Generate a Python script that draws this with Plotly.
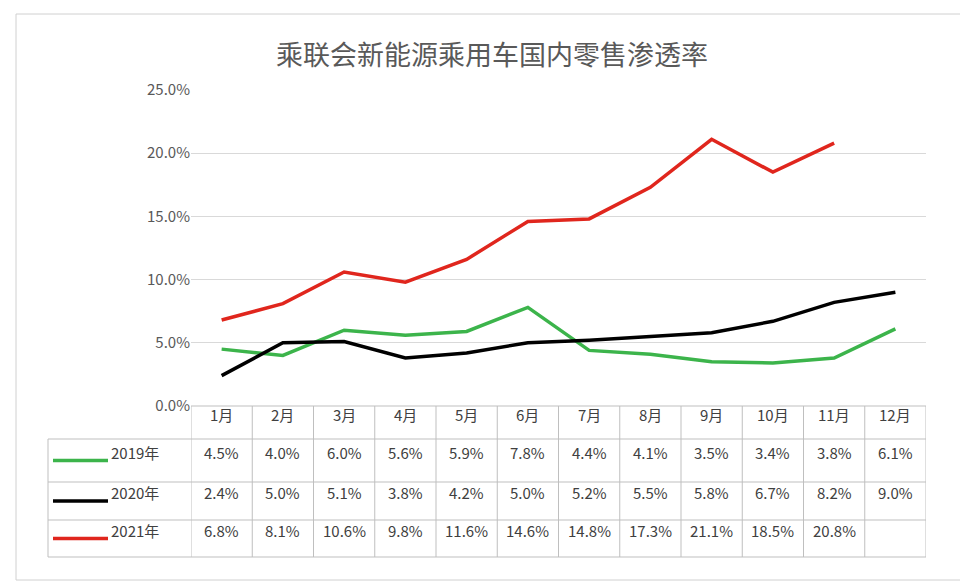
import plotly.graph_objects as go

months = ["1月", "2月", "3月", "4月", "5月", "6月", "7月", "8月", "9月", "10月", "11月", "12月"]
s2019 = [4.5, 4.0, 6.0, 5.6, 5.9, 7.8, 4.4, 4.1, 3.5, 3.4, 3.8, 6.1]
s2020 = [2.4, 5.0, 5.1, 3.8, 4.2, 5.0, 5.2, 5.5, 5.8, 6.7, 8.2, 9.0]
s2021 = [6.8, 8.1, 10.6, 9.8, 11.6, 14.6, 14.8, 17.3, 21.1, 18.5, 20.8, None]
names = ["2019年", "2020年", "2021年"]
colors = ["#3cb44b", "#000000", "#e0261d"]
series = [s2019, s2020, s2021]

W, H = 968, 586
L, R, T, B = 183, 50, 82, 188
pw, ph = W - L - R, H - T - B
def py(p):  # pixel y -> paper y
    return (H - B - p) / ph
def px(p):
    return (p - L) / pw

fig = go.Figure()
for n, s, c in zip(names, series, colors):
    fig.add_trace(go.Scatter(x=list(range(12)), y=s, mode="lines", name=n,
                             line=dict(color=c, width=3.5), showlegend=False))

shapes, ann = [], []
grey = "#bfbfbf"
font = dict(family="Noto Sans CJK SC", size=15, color="#404040")
rows = [398, 431, 474, 512, 549]
for i, r in enumerate(rows):
    x0 = 0 if i == 0 else px(40)
    shapes.append(dict(type="line", xref="paper", yref="paper", x0=x0, x1=1,
                       y0=py(r), y1=py(r), line=dict(color=grey, width=1)))
shapes.append(dict(type="line", xref="paper", yref="paper", x0=px(40), x1=px(40),
                   y0=py(rows[1]), y1=py(rows[-1]), line=dict(color=grey, width=1)))
for k in range(13):
    shapes.append(dict(type="line", xref="x", yref="paper", x0=k - 0.5, x1=k - 0.5,
                       y0=py(rows[0]), y1=py(rows[-1]), line=dict(color=grey, width=1)))
for k, m in enumerate(months):
    ann.append(dict(x=k, y=py((rows[0] + rows[1]) / 2), xref="x", yref="paper",
                    text=m, showarrow=False, font=font, yshift=-4))
for j, (n, s, c) in enumerate(zip(names, series, colors)):
    yc = py((rows[j + 1] + rows[j + 2]) / 2)
    shapes.append(dict(type="line", xref="paper", yref="paper", x0=px(45), x1=px(100),
                       y0=yc, y1=yc, line=dict(color=c, width=3.5)))
    ann.append(dict(x=px(101), y=yc, xref="paper", yref="paper", text=n, xanchor="left",
                    showarrow=False, font=font, yshift=-4))
    for k, v in enumerate(s):
        if v is not None:
            ann.append(dict(x=k, y=yc, xref="x", yref="paper", text=f"{v:.1f}%",
                            showarrow=False, font=font, yshift=-4))
shapes.append(dict(type="rect", xref="paper", yref="paper", x0=px(8), x1=px(958),
                   y0=py(572), y1=py(6), line=dict(color="#d0d0d0", width=1)))

fig.update_layout(
    width=W, height=H, margin=dict(l=L, r=R, t=T, b=B),
    plot_bgcolor="white", paper_bgcolor="white",
    title=dict(text="乘联会新能源乘用车国内零售渗透率", x=0.5, xanchor="center", y=0.935,
               font=dict(family="Noto Sans CJK SC", size=27, color="#595959")),
    xaxis=dict(range=[-0.5, 11.5], showticklabels=False, showgrid=False, zeroline=False),
    yaxis=dict(range=[0, 25], dtick=5, ticksuffix=".0%", showgrid=True, gridcolor="#d9d9d9",
               zeroline=False, tickfont=dict(family="Noto Sans CJK SC", size=15, color="#595959"),
               ticks="", ticklen=8),
    shapes=shapes, annotations=ann,
)
fig.write_html("out.html")
